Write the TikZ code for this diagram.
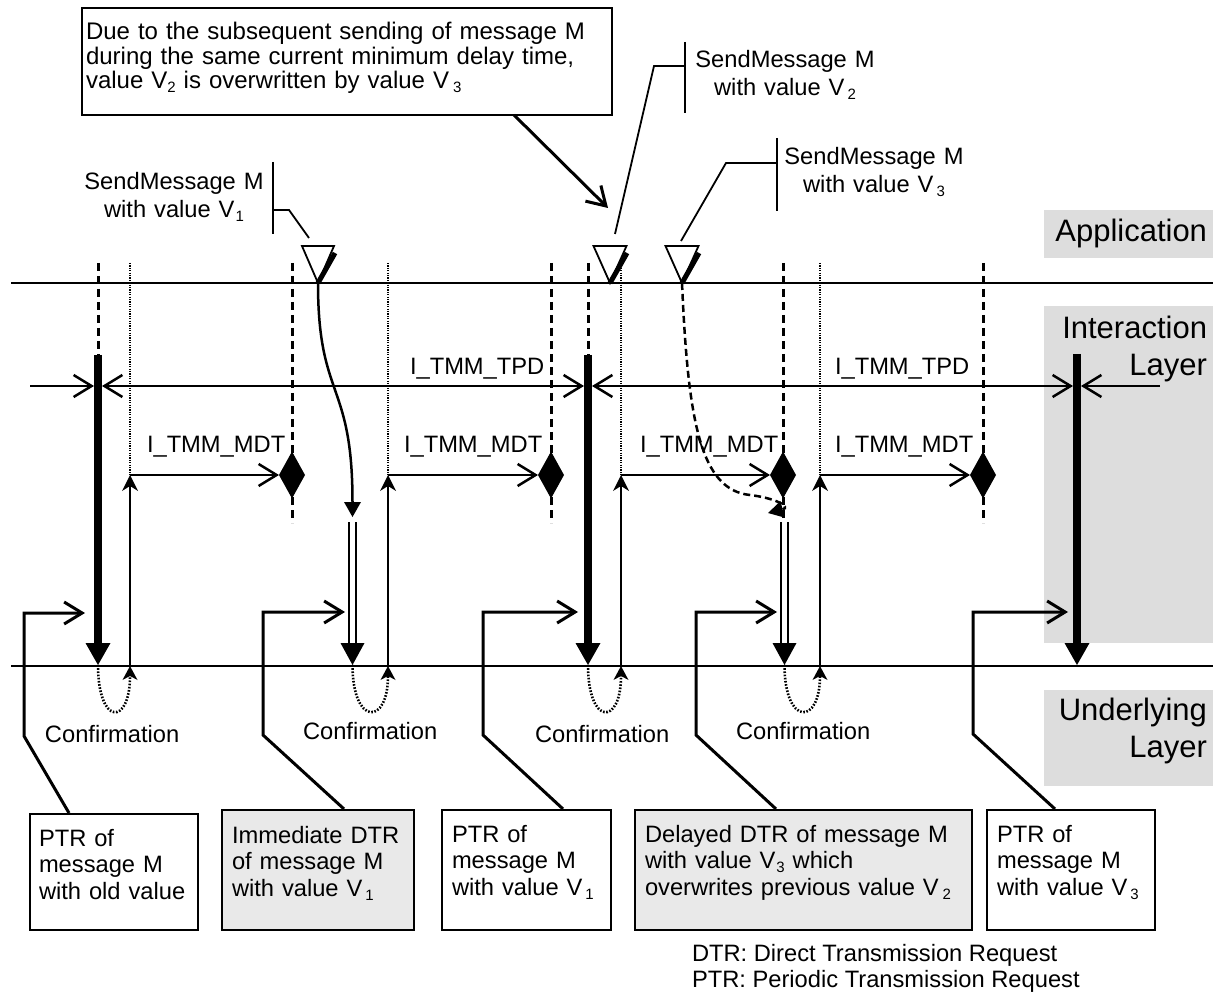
\documentclass[tikz,border=0pt]{standalone}
\usepackage{fontspec}
\setmainfont{Liberation Sans}
\usetikzlibrary{arrows.meta,shapes.geometric}
\definecolor{layergray}{RGB}{221,221,221}
\definecolor{boxgray}{RGB}{233,233,233}
\newcommand{\vsb}[2]{\kern#1pt\raisebox{-4pt}{\fontsize{15}{15}\selectfont #2}}
\begin{document}
\begin{tikzpicture}[x=1pt,y=-1pt,
  every node/.style={inner sep=0pt,outer sep=0pt},
  txt/.style={font=\fontsize{23.7}{26.5}\selectfont,anchor=base west},
  ctxt/.style={font=\fontsize{23.7}{27.5}\selectfont,anchor=base,align=center,text width=230pt},
  btxt/.style={font=\fontsize{23.7}{26.5}\selectfont,anchor=base west,align=left},
  big/.style={font=\fontsize{31}{37}\selectfont,anchor=base east,align=right,text width=165pt},
  bg/.style={fill=layergray,anchor=north west,minimum width=169pt},
  boxframe/.style={draw,line width=2pt,anchor=north west},
  layerline/.style={line width=2pt},
  dashv/.style={line width=3pt,dash pattern=on 8pt off 5pt},
  dotv/.style={line width=2.4pt,dash pattern=on 1.2pt off 1.2pt},
  bar/.style={line width=8pt,-{Triangle[width=25pt,length=22pt,line width=0pt]}},
  dtr/.style={double,double distance=4.5pt,line width=2.3pt,-{Triangle[width=24pt,length=22pt,line width=0pt]}},
  conf/.style={line width=2.5pt,-{Stealth[width=16pt,length=16pt,inset=5pt,line width=0pt]}},
  confdot/.style={line width=2.6pt,dash pattern=on 1.6pt off 1.6pt,-{Stealth[width=15pt,length=14pt,inset=4pt,line width=0pt]}},
  opn/.style={line width=2.5pt,-{Straight Barb[length=18pt,width=22pt]}},
  tpdarrow/.style={line width=2.5pt,{Straight Barb[length=18pt,width=22pt]}-{Straight Barb[length=18pt,width=22pt]}},
  lead/.style={line width=3pt,-{Straight Barb[length=18pt,width=22pt]}},
  callout/.style={line width=1.8pt},
  diam/.style={diamond,fill=black,minimum width=26pt,minimum height=47pt},
  sendtri/.style={line width=1.8pt,fill=white,line join=miter},
  slash/.style={line width=5pt},
  sendcurve/.style={line width=2.5pt,-{Triangle[width=17pt,length=15pt,line width=0pt]}},
]
\useasboundingbox (0,0) rectangle (1219,992);

% layer backgrounds and labels
\node[bg,minimum height=48pt] (appbg) at (1044,210) {};
\node[bg,minimum height=337pt] (intbg) at (1044,306) {};
\node[bg,minimum height=96pt] (undbg) at (1044,690) {};
\node[big] (applbl) at (1207,242) {Application};
\node[big] (intlbl) at (1207,339) {Interaction\\Layer};
\node[big] (undlbl) at (1207,720) {Underlying\\Layer};

% layer lines
\coordinate (appL) at (11,283); \coordinate (appR) at (1213,283);
\coordinate (undL) at (11,666); \coordinate (undR) at (1213,666);
\draw[layerline] (appL) -- (appR);
\draw[layerline] (undL) -- (undR);

% note box
\node[boxframe,minimum width=530pt,minimum height=107pt] (note) at (82,8) {};
\node[txt,align=left,text width=520pt,font=\fontsize{24}{24.5}\selectfont] (notetxt) at (86,40)
  {Due to the subsequent sending of message M\\during the same current minimum delay time,\\value V\vsb{0}{2} is overwritten by value V\vsb{4}{3}};
\coordinate (noteout) at (514,115); \coordinate (noteend) at (608,208);
\draw[lead] (noteout) -- (noteend);

% send callouts
\node[ctxt] (sm1) at (174,190) {SendMessage M\\with value V\vsb{1}{1}};
\node[ctxt] (sm2) at (785,68) {SendMessage M\\with value V\vsb{3}{2}};
\node[ctxt] (sm3) at (874,165) {SendMessage M\\with value V\vsb{3}{3}};
\coordinate (c1a) at (273,162); \coordinate (c1b) at (273,234);
\coordinate (c1m) at (273,210); \coordinate (c1k) at (289,210); \coordinate (c1e) at (309,238);
\draw[callout] (c1a) -- (c1b);
\draw[callout] (c1m) -- (c1k) -- (c1e);
\coordinate (c2a) at (685,42); \coordinate (c2b) at (685,113);
\coordinate (c2m) at (685,66); \coordinate (c2k) at (654,66); \coordinate (c2e) at (615,234);
\draw[callout] (c2a) -- (c2b);
\draw[callout] (c2m) -- (c2k) -- (c2e);
\coordinate (c3a) at (777,138); \coordinate (c3b) at (777,211);
\coordinate (c3m) at (777,163); \coordinate (c3k) at (726,163); \coordinate (c3e) at (681,241);
\draw[callout] (c3a) -- (c3b);
\draw[callout] (c3m) -- (c3k) -- (c3e);

% PTR bars
\coordinate (A1top) at (98,263); \coordinate (A1bar) at (98,355); \coordinate (A1tip) at (98,665);
\coordinate (A2top) at (588,263); \coordinate (A2bar) at (588,355); \coordinate (A2tip) at (588,665);
\coordinate (A3bar) at (1077,354); \coordinate (A3tip) at (1077,665);
\draw[dashv] (A1top) -- (A1bar);
\draw[dashv] (A2top) -- (A2bar);
\draw[bar] (A1bar) -- (A1tip);
\draw[bar] (A2bar) -- (A2tip);
\draw[bar] (A3bar) -- (A3tip);

% confirmation columns
\coordinate (B1top) at (130,263); \coordinate (B1mid) at (130,475); \coordinate (B1bot) at (130,666);
\coordinate (B2top) at (388,263); \coordinate (B2mid) at (388,475); \coordinate (B2bot) at (388,666);
\coordinate (B3top) at (621,263); \coordinate (B3mid) at (621,475); \coordinate (B3bot) at (621,666);
\coordinate (B4top) at (820,263); \coordinate (B4mid) at (820,475); \coordinate (B4bot) at (820,666);
\draw[dotv] (B1top) -- (B1mid);
\draw[dotv] (B2top) -- (B2mid);
\draw[dotv] (B3top) -- (B3mid);
\draw[dotv] (B4top) -- (B4mid);
\draw[conf] (B1bot) -- (B1mid);
\draw[conf] (B2bot) -- (B2mid);
\draw[conf] (B3bot) -- (B3mid);
\draw[conf] (B4bot) -- (B4mid);

% minimum delay columns with diamonds
\coordinate (D1top) at (292,263); \coordinate (D1bot) at (292,523);
\coordinate (D2top) at (551,263); \coordinate (D2bot) at (551,523);
\coordinate (D3top) at (783,263); \coordinate (D3bot) at (783,518);
\coordinate (D4top) at (983,263); \coordinate (D4bot) at (983,523);
\draw[dashv] (D1top) -- (D1bot);
\draw[dashv] (D2top) -- (D2bot);
\draw[dashv] (D3top) -- (D3bot);
\draw[dashv] (D4top) -- (D4bot);
\node[diam] (dm1) at (292,475) {};
\node[diam] (dm2) at (551,475) {};
\node[diam] (dm3) at (783,475) {};
\node[diam] (dm4) at (983,475) {};
\draw[opn] (B1mid) -- (dm1.west);
\draw[opn] (B2mid) -- (dm2.west);
\draw[opn] (B3mid) -- (dm3.west);
\draw[opn] (B4mid) -- (dm4.west);

% direct transmission requests
\coordinate (E1top) at (352.5,522); \coordinate (E1tip) at (352.5,665);
\coordinate (E2top) at (784.5,522); \coordinate (E2tip) at (784.5,665);
\draw[dtr] (E1top) -- (E1tip);
\draw[dtr] (E2top) -- (E2tip);

% confirmations
\draw[confdot] (A1tip) .. controls (98,726) and (130,726) .. (B1bot);
\draw[confdot] (E1tip) .. controls (352.5,726) and (388,726) .. (B2bot);
\draw[confdot] (A2tip) .. controls (588,726) and (621,726) .. (B3bot);
\draw[confdot] (E2tip) .. controls (784.5,726) and (820,726) .. (B4bot);
\node[txt] (conf1) at (45,742) {Confirmation};
\node[txt] (conf2) at (303,739) {Confirmation};
\node[txt] (conf3) at (535,742) {Confirmation};
\node[txt] (conf4) at (736,739) {Confirmation};

% periods
\coordinate (tpdL) at (30,386); \coordinate (A1l) at (94,386); \coordinate (A1r) at (102,386);
\coordinate (A2l) at (584,386); \coordinate (A2r) at (592,386);
\coordinate (A3l) at (1073,386); \coordinate (A3r) at (1081,386); \coordinate (tpdR) at (1160,386);
\draw[opn] (tpdL) -- (A1l);
\draw[tpdarrow] (A1r) -- (A2l);
\draw[tpdarrow] (A2r) -- (A3l);
\draw[opn] (tpdR) -- (A3r);
\node[txt] (tpd1) at (410,375) {I\_TMM\_TPD};
\node[txt] (tpd2) at (835,375) {I\_TMM\_TPD};
\node[txt] (mdt1) at (147,453) {I\_TMM\_MDT};
\node[txt] (mdt2) at (404,453) {I\_TMM\_MDT};
\node[txt] (mdt3) at (640,453) {I\_TMM\_MDT};
\node[txt] (mdt4) at (835,453) {I\_TMM\_MDT};

% send triangles and their paths
\coordinate (T1) at (318,283); \coordinate (T1a) at (302,246); \coordinate (T1b) at (334,246); \coordinate (T1s) at (335,253);
\coordinate (T2) at (610,283); \coordinate (T2a) at (593.5,246); \coordinate (T2b) at (626.5,246); \coordinate (T2s) at (627,253);
\coordinate (T3) at (682,283); \coordinate (T3a) at (665.5,246); \coordinate (T3b) at (698.5,246); \coordinate (T3s) at (699,253);
\draw[sendtri] (T1) -- (T1a) -- (T1b) -- cycle;
\draw[sendtri] (T2) -- (T2a) -- (T2b) -- cycle;
\draw[sendtri] (T3) -- (T3a) -- (T3b) -- cycle;
\draw[slash] (T1) -- (T1s);
\draw[slash] (T2) -- (T2s);
\draw[slash] (T3) -- (T3s);
\coordinate (E1arr) at (352.5,517);
\coordinate (E2arr) at (768,513);
\draw[sendcurve] (T1) .. controls (318,400) and (352.5,380) .. (E1arr);
\draw[sendcurve,dash pattern=on 7pt off 4pt] (T3) .. controls (688,420) and (700,490) .. (750,495) .. controls (775,498) and (792,507) .. (E2arr);

% bottom boxes
\node[boxframe,minimum width=168pt,minimum height=116pt] (b1) at (30,814) {};
\node[boxframe,fill=boxgray,minimum width=192pt,minimum height=120pt] (b2) at (222,810) {};
\node[boxframe,minimum width=169pt,minimum height=120pt] (b3) at (442,810) {};
\node[boxframe,fill=boxgray,minimum width=337pt,minimum height=120pt] (b4) at (635,810) {};
\node[boxframe,minimum width=168pt,minimum height=120pt] (b5) at (987,810) {};
\node[btxt,text width=155pt] (b1t) at (39,846) {PTR of\\message M\\with old value};
\node[btxt,text width=180pt] (b2t) at (232,843) {Immediate DTR\\of message M\\with value V\vsb{3}{1}};
\node[btxt,text width=155pt] (b3t) at (452,842) {PTR of\\message M\\with value V\vsb{3}{1}};
\node[btxt,text width=325pt] (b4t) at (645,842) {Delayed DTR of message M\\with value V\vsb{1}{3} which\\overwrites previous value V\vsb{4}{2}};
\node[btxt,text width=155pt] (b5t) at (997,842) {PTR of\\message M\\with value V\vsb{3}{3}};

% leaders from boxes
\coordinate (p1s) at (69,813); \coordinate (p1b) at (24,736); \coordinate (p1c) at (24,613); \coordinate (p1e) at (85,613);
\coordinate (p2s) at (344,809); \coordinate (p2b) at (263,735); \coordinate (p2c) at (263,612); \coordinate (p2e) at (345,612);
\coordinate (p3s) at (563,809); \coordinate (p3b) at (483,735); \coordinate (p3c) at (483,612); \coordinate (p3e) at (578,612);
\coordinate (p4s) at (776,809); \coordinate (p4b) at (696,735); \coordinate (p4c) at (696,612); \coordinate (p4e) at (777,612);
\coordinate (p5s) at (1055,809); \coordinate (p5b) at (973,734); \coordinate (p5c) at (973,612); \coordinate (p5e) at (1068,612);
\draw[lead] (p1s) -- (p1b) -- (p1c) -- (p1e);
\draw[lead] (p2s) -- (p2b) -- (p2c) -- (p2e);
\draw[lead] (p3s) -- (p3b) -- (p3c) -- (p3e);
\draw[lead] (p4s) -- (p4b) -- (p4c) -- (p4e);
\draw[lead] (p5s) -- (p5b) -- (p5c) -- (p5e);

% footnote
\node[txt] (fn1) at (692,961) {DTR: Direct Transmission Request};
\node[txt] (fn2) at (692,987) {PTR: Periodic Transmission Request};
\end{tikzpicture}
\end{document}
